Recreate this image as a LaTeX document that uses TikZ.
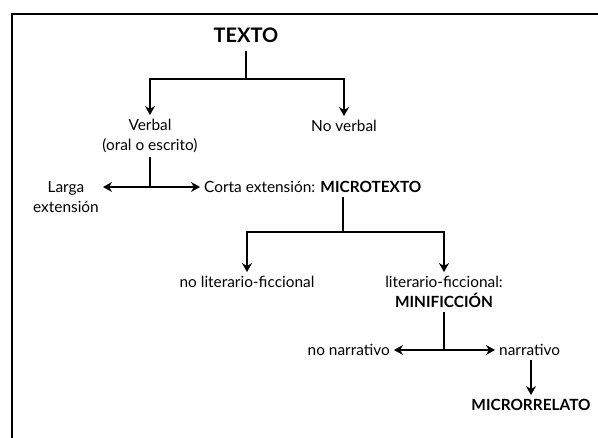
\documentclass[tikz,border=0pt]{standalone}
\usepackage{fontspec}
\setmainfont{Lato}
\usetikzlibrary{arrows.meta}

\begin{document}
\begin{tikzpicture}[x=1pt, y=-1pt,
 txt/.style={font=\fontsize{15.4}{20}\selectfont, inner sep=4pt, align=center},
 title/.style={font=\fontsize{20}{24}\selectfont\bfseries, inner sep=8pt},
 line/.style={line width=1.2pt},
 arr/.style={line width=1.2pt, -{Stealth[length=9pt,width=10pt]}},
]
\useasboundingbox (0,0) rectangle (598,438);

%frame
\draw[line width=1.4pt] (12,438) -- (12,14) -- (598,14);

%first level
\node[title] (texto) at (246,35) {TEXTO};
\node[txt] (verbal) at (150,136) {Verbal\\(oral o escrito)};
\node[txt] (noverbal) at (344,126) {No verbal};
\coordinate (s1) at (246,79);
\draw[line] (texto) -- (s1);
\draw[arr] (s1) -| (verbal);
\draw[arr] (s1) -| (noverbal);

%extension
\node[txt] (larga) at (66,197) {Larga\\extensión};
\node[txt, anchor=west] (corta) at (200,187) {Corta extensión: \textbf{MICROTEXTO}};
\coordinate (s2) at (150,187);
\draw[line] (verbal) -- (s2);
\draw[arr] (s2) -- (larga.east |- s2);
\draw[arr] (s2) -- (corta);

%microtexto
\node[txt] (nolit) at (247,282) {no literario-ficcional};
\node[txt] (lit) at (444,292) {literario-ficcional:\\\textbf{MINIFICCIÓN}};
\coordinate (s3) at (343,232);
\draw[line] (corta.south -| s3) -- (s3);
\draw[arr] (s3) -| (nolit);
\draw[arr] (s3) -| (lit);

%minificcion
\node[txt, anchor=east] (nonarr) at (394,350) {no narrativo};
\node[txt, anchor=west] (narr) at (495,350) {narrativo};
\node[txt, font=\fontsize{15.4}{20}\selectfont\bfseries] (micro) at (531,405) {MICRORRELATO};
\coordinate (s4) at (444,350);
\draw[line] (lit) -- (s4);
\draw[arr] (s4) -- (nonarr);
\draw[arr] (s4) -- (narr);
\draw[arr] (narr.south -| micro) -- (micro);

\end{tikzpicture}
\end{document}
